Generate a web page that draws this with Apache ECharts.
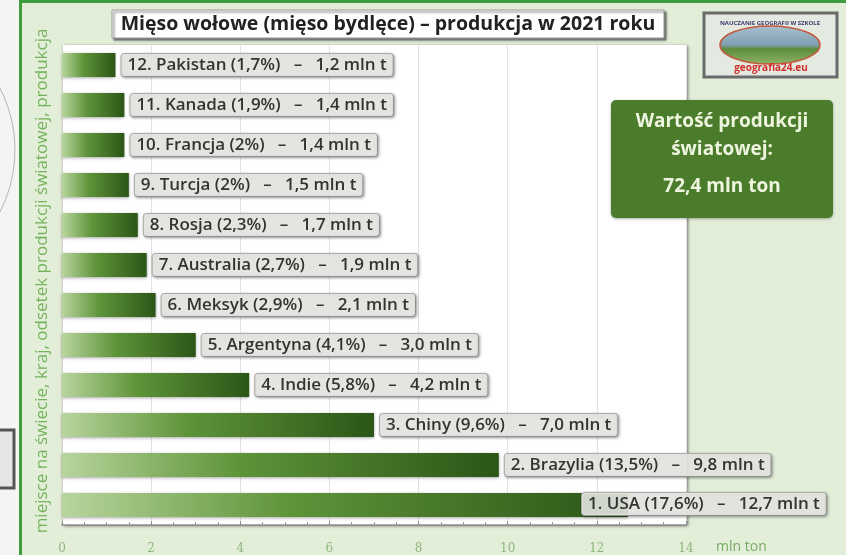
<!DOCTYPE html>
<html style="height: 100%">
<head>
<meta charset="utf-8">
<script src="https://cdn.jsdelivr.net/npm/echarts@6/dist/echarts.min.js"></script>
</head>
<body style="height: 100%; margin: 0; background: #e3eed9">
<div id="chart" style="width: 846px; height: 555px"></div>
<script type="text/javascript">
// dane: od 12. miejsca do 1.
var countries = ['Pakistan', 'Kanada', 'Francja', 'Turcja', 'Rosja', 'Australia', 'Meksyk', 'Argentyna', 'Indie', 'Chiny', 'Brazylia', 'USA'];
var shares = ['1,7', '1,9', '2', '2', '2,3', '2,7', '2,9', '4,1', '5,8', '9,6', '13,5', '17,6'];
var values = [1.2, 1.4, 1.4, 1.5, 1.7, 1.9, 2.1, 3.0, 4.2, 7.0, 9.8, 12.7];
var ticks = [0, 2, 4, 6, 8, 10, 12, 14];

var W = 846, H = 555;
var font = '"Open Sans", "Noto Sans", sans-serif';

var myChart = echarts.init(document.getElementById('chart'));

function fmtVal(v) {
    return v.toFixed(1).replace('.', ',');
}

var option = {
    backgroundColor: '#e3eed9',
    animation: false,
    grid: {
        left: 62, right: 160, top: 45, bottom: 30,
        show: true,
        backgroundColor: '#ffffff',
        borderWidth: 0,
        shadowColor: 'rgba(60,60,60,0.7)',
        shadowBlur: 3,
        shadowOffsetX: 2,
        shadowOffsetY: 1
    },
    xAxis: {
        type: 'value',
        min: 0, max: 14, interval: 2,
        axisLine: { show: true, lineStyle: { color: '#8c8c8c', width: 1.5 } },
        axisTick: { show: true, length: 4, inside: true, lineStyle: { color: '#8c8c8c' } },
        minorTick: { show: true, splitNumber: 4, length: 3, lineStyle: { color: '#999' } },
        splitLine: { show: true, lineStyle: { color: '#e2e2e2' } },
        axisLabel: {
            color: '#8fb67f', fontFamily: 'DejaVu Serif, serif', fontSize: 12, margin: 18,
            formatter: function (v) { return ticks.indexOf(v) >= 0 ? String(v) : ''; }
        },
        name: 'mln ton',
        nameLocation: 'end',
        nameGap: 30,
        nameTextStyle: { color: '#7aab66', fontFamily: font, fontSize: 14, verticalAlign: 'top', padding: [15, 0, 0, 0] }
    },
    yAxis: {
        type: 'category',
        inverse: true,
        data: countries,
        axisLine: { show: true, lineStyle: { color: '#d0d0d0' } },
        axisTick: { show: false },
        axisLabel: { show: false },
        name: 'miejsce na świecie, kraj, odsetek produkcji światowej, produkcja',
        nameLocation: 'middle',
        nameRotate: 90,
        nameGap: 11,
        nameTextStyle: { color: '#74b25c', fontFamily: font, fontSize: 17, padding: [0, 0, 0, 8] }
    },
    series: [{
        type: 'bar',
        data: values,
        barWidth: 24,
        itemStyle: {
            color: new echarts.graphic.LinearGradient(0, 0, 1, 0, [
                { offset: 0, color: '#b8d59d' },
                { offset: 0.4, color: '#5f943a' },
                { offset: 1, color: '#2a5617' }
            ]),
            shadowColor: 'rgba(0,0,0,0.35)',
            shadowBlur: 3,
            shadowOffsetY: 1
        },
        label: {
            show: true,
            position: 'right',
            distance: 6,
            formatter: function (p) {
                var i = p.dataIndex;
                var rank = countries.length - i;
                return rank + '. ' + countries[i] + ' (' + shares[i] + '%)   –   ' + fmtVal(values[i]) + ' mln t';
            },
            color: '#333333',
            fontFamily: font,
            fontWeight: 600,
            fontSize: 17,
            backgroundColor: 'rgba(234,236,230,0.88)',
            borderColor: '#b4b4b4',
            borderWidth: 1,
            borderRadius: 3,
            padding: [3, 6, 2, 6],
            shadowColor: 'rgba(0,0,0,0.35)',
            shadowBlur: 3,
            shadowOffsetX: 1,
            shadowOffsetY: 1
        },
        labelLayout: function (params) {
            var r = params.labelRect;
            if (r.x + r.width > W) {
                return { x: r.x - 51, y: r.y, align: 'left', verticalAlign: 'top' };
            }
            return {};
        }
    }],
    graphic: [
        // pasek po lewej (fragment sąsiedniego slajdu)
        { type: 'rect', left: 0, top: 0, shape: { width: 19, height: H }, style: { fill: '#f4f4f2' }, z: 0 },
        { type: 'arc', shape: { cx: -120, cy: 150, r: 135, startAngle: -0.9, endAngle: 0.9 }, style: { stroke: '#b5b5b5', lineWidth: 1, fill: null }, z: 1 },
        { type: 'rect', shape: { x: -10, y: 430, width: 24, height: 58 }, style: { fill: '#e6e6e6', stroke: '#555', lineWidth: 3 }, z: 1 },
        { type: 'rect', shape: { x: 19, y: 0, width: 3, height: H }, style: { fill: '#3d9b3d' }, z: 2 },
        { type: 'rect', shape: { x: 19, y: 0, width: W, height: 3 }, style: { fill: '#3d9b3d' }, z: 2 },
        // tytuł
        {
            type: 'rect', shape: { x: 112, y: 10, width: 552, height: 28 },
            style: { fill: '#ffffff', stroke: '#9a9a9a', lineWidth: 1, shadowColor: 'rgba(50,50,50,0.7)', shadowBlur: 2, shadowOffsetX: 2, shadowOffsetY: 2 },
            z: 10
        },
        {
            type: 'text', x: 388, y: 24,
            style: { text: 'Mięso wołowe (mięso bydlęce) – produkcja w 2021 roku', fill: '#222', font: 'bold 19.5px ' + font, textAlign: 'center', textVerticalAlign: 'middle' },
            z: 11
        },
        // logo
        {
            type: 'rect', shape: { x: 704, y: 13, width: 133, height: 64 },
            style: { fill: '#e4e9e2', stroke: '#6b6b6b', lineWidth: 3 },
            z: 10
        },
        {
            type: 'ellipse', shape: { cx: 770, cy: 45, rx: 50, ry: 19 },
            style: { fill: new echarts.graphic.LinearGradient(0, 0, 0, 1, [
                { offset: 0, color: '#a9c0cf' }, { offset: 0.5, color: '#7f9fb2' }, { offset: 0.6, color: '#5d8c3c' }, { offset: 1, color: '#8fb36a' }
            ]), stroke: '#c45a3c', lineWidth: 1.5 },
            z: 11
        },
        { type: 'text', x: 770, y: 23, style: { text: 'NAUCZANIE GEOGRAFII W SZKOLE', fill: '#3a3a6a', font: 'bold 6px ' + font, textAlign: 'center', textVerticalAlign: 'middle' }, z: 12 },
        { type: 'text', x: 771, y: 68, style: { text: 'geografia24.eu', fill: '#d0302a', font: 'bold 10px ' + font, textAlign: 'center', textVerticalAlign: 'middle' }, z: 12 },
        // wartość produkcji światowej
        {
            type: 'rect', shape: { x: 611, y: 100, width: 222, height: 118, r: 5 },
            style: { fill: '#4b7c2c', shadowColor: 'rgba(0,0,0,0.3)', shadowBlur: 3, shadowOffsetY: 1 },
            z: 10
        },
        { type: 'text', x: 722, y: 122, style: { text: 'Wartość produkcji', fill: '#eef5df', font: 'bold 19px ' + font, textAlign: 'center', textVerticalAlign: 'middle' }, z: 11 },
        { type: 'text', x: 722, y: 150, style: { text: 'światowej:', fill: '#eef5df', font: 'bold 19px ' + font, textAlign: 'center', textVerticalAlign: 'middle' }, z: 11 },
        { type: 'text', x: 722, y: 187, style: { text: '72,4 mln ton', fill: '#eef5df', font: 'bold 19px ' + font, textAlign: 'center', textVerticalAlign: 'middle' }, z: 11 }
    ]
};

myChart.setOption(option);
</script>
</body>
</html>
